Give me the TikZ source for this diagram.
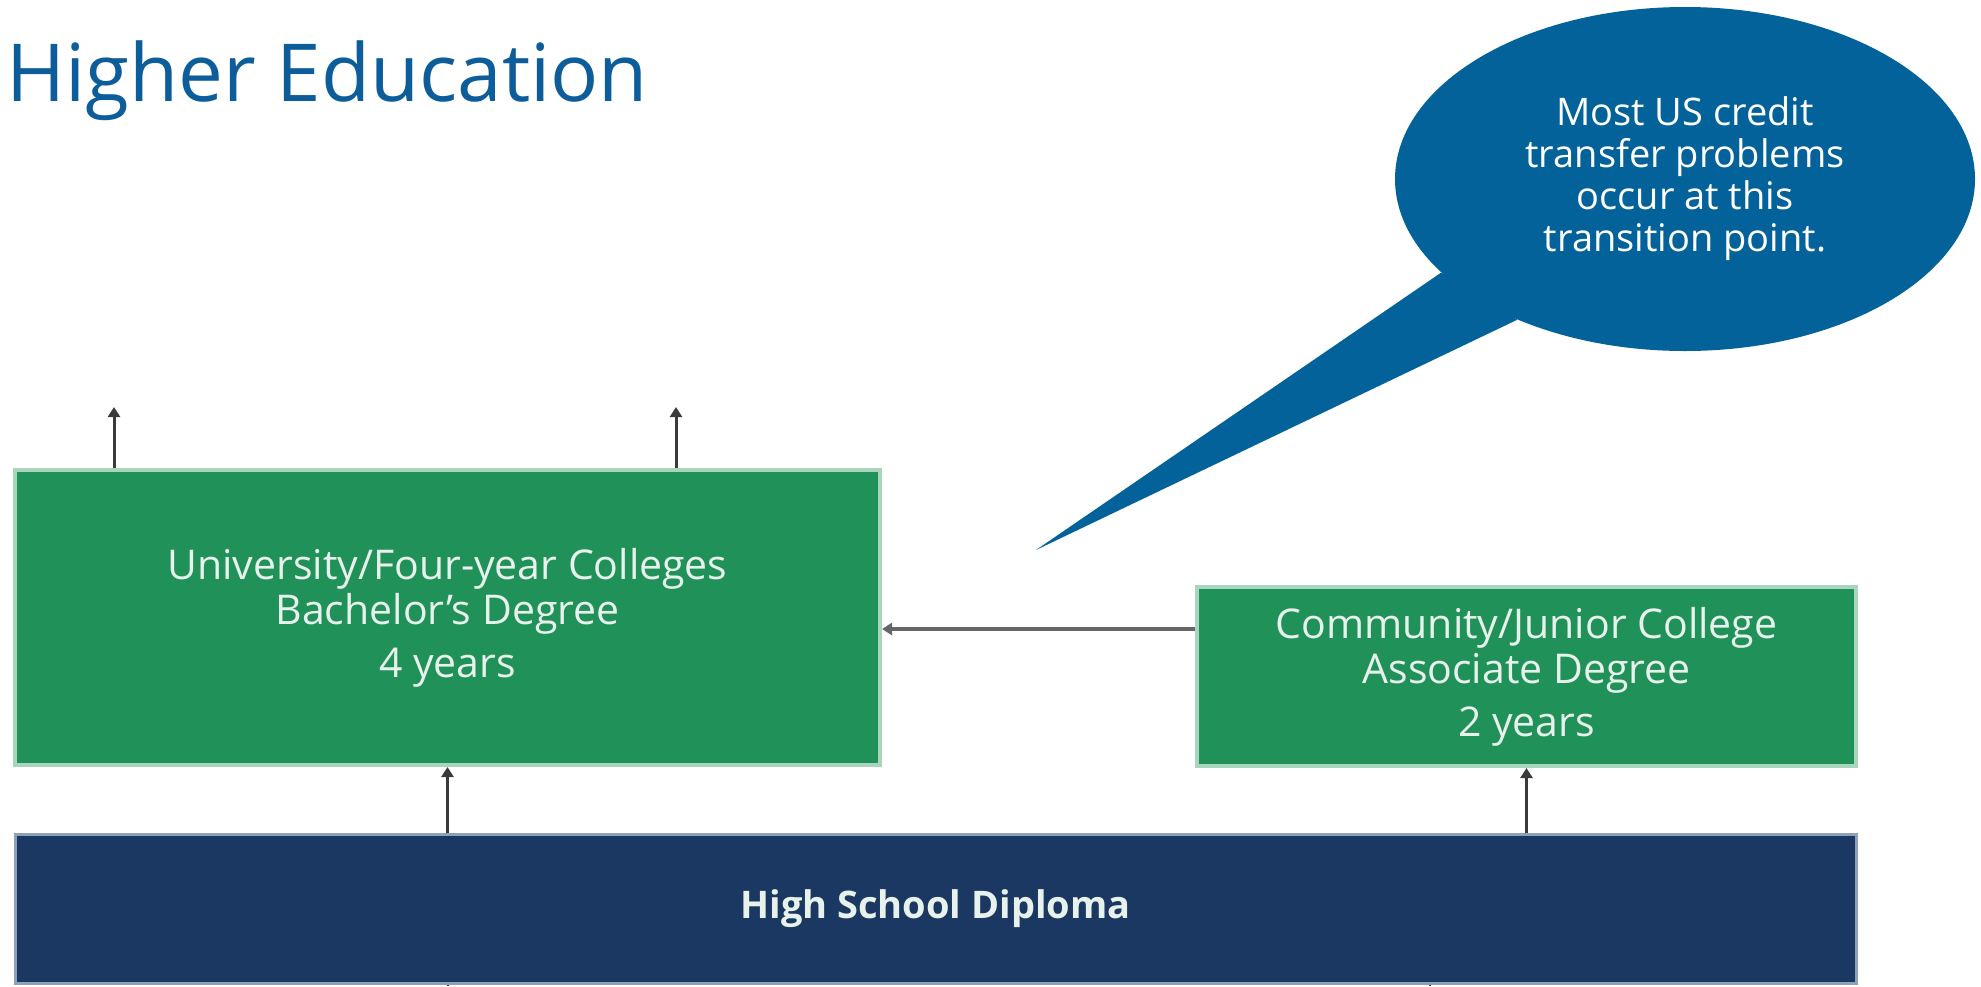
\documentclass[tikz,border=0pt]{standalone}
\usepackage{fontspec}
\setmainfont{Open Sans}
\usetikzlibrary{shapes,arrows.meta}
\definecolor{titleblue}{HTML}{0C5D99}
\definecolor{bubbleblue}{HTML}{03629A}
\definecolor{collegegreen}{HTML}{21915A}
\definecolor{collegeedge}{HTML}{A9D5BC}
\definecolor{schoolnavy}{HTML}{1A3862}
\definecolor{schooledge}{HTML}{8FA0B8}
\definecolor{boxtext}{HTML}{E8F2EC}
\definecolor{linegray}{HTML}{3A3A3A}

\begin{document}
\begin{tikzpicture}[x=0.5pt,y=-0.5pt]
    \tikzstyle{level box}=[rectangle, inner sep=0pt, align=center, text=boxtext, font=\fontsize{20.5}{22.5}\selectfont]
    \tikzstyle{college}=[level box, fill=collegegreen, draw=collegeedge, line width=2pt]
    \tikzstyle{school}=[level box, fill=schoolnavy, draw=schooledge, line width=1.5pt, font=\fontsize{19}{22}\selectfont\bfseries]
    \tikzstyle{path up}=[draw=linegray, line width=1.5pt, -{Triangle[length=5pt,width=6pt]}]
    \tikzstyle{bubble}=[ellipse, fill=bubbleblue, inner sep=0pt, text=white, align=center, minimum width=290pt, minimum height=172pt, font=\fontsize{19}{21}\selectfont]
    \useasboundingbox (0,0) rectangle (1981,986);
    % title
    \node[anchor=base west, inner sep=0pt, text=titleblue, font=\fontsize{40}{48}\selectfont] (title) at (6,101) {Higher Education};
    % boxes
    \node[college, minimum width=432.5pt, minimum height=147.5pt] (univ) at (447.5,617.5) {University/Four-year Colleges\\Bachelor's Degree\\[4pt]4 years};
    \node[college, minimum width=329.5pt, minimum height=89.5pt] (cc) at (1526.5,676.5) {Community/Junior College\\Associate Degree\\[4pt]2 years};
    \node[school, minimum width=920.5pt, minimum height=74.5pt] (hsd) at (935.5,908.5) {High School Diploma};
    % paths
    \coordinate (out1) at (114,407);
    \coordinate (out2) at (676,407);
    \draw[path up] (out1 |- univ.north) -- (out1);
    \draw[path up] (out2 |- univ.north) -- (out2);
    \draw[path up] (hsd.north -| univ.south) -- (univ.south);
    \draw[path up] (hsd.north -| cc.south) -- (cc.south);
    \draw[path up, draw=gray!80!black, line width=2pt] (cc.west |- 0,629) -- (univ.east |- 0,629);
    \draw[linegray, line width=1pt] (hsd.south -| univ.south) -- (447.5,986);
    \draw[linegray, line width=1pt] (hsd.south -| 1430,0) -- (1430,986);
    % callout
    \node[bubble] (note) at (1685,179) {Most US credit\\transfer problems\\occur at this\\transition point.};
    \coordinate (tip) at (1036,550);
    \fill[bubbleblue] (note.201) -- (tip) -- (note.220) -- cycle;
\end{tikzpicture}
\end{document}
